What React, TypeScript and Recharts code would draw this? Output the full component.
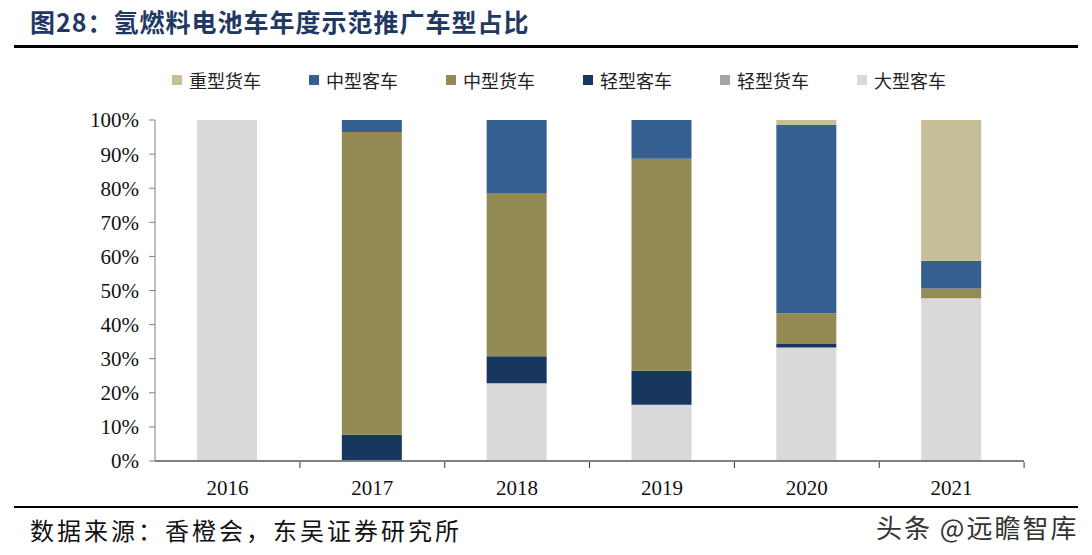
import { Bar, BarChart, XAxis, YAxis } from "recharts";

const years = ["2016", "2017", "2018", "2019", "2020", "2021"];
const bigBus = [100, 0, 22.8, 16.5, 33.3, 47.7];
const lightTruck = [0, 0, 0, 0, 0, 0];
const lightBus = [0, 7.7, 7.9, 10.0, 1.0, 0];
const midTruck = [0, 88.8, 47.9, 62.1, 9.0, 2.9];
const midBus = [0, 3.5, 21.4, 11.4, 55.2, 8.1];
const heavyTruck = [0, 0, 0, 0, 1.5, 41.3];
const yTicks = [0, 10, 20, 30, 40, 50, 60, 70, 80, 90, 100];

// bottom to top
const series = [
  { key: "bigBus", name: "大型客车", color: "#D9D9D9", values: bigBus },
  { key: "lightTruck", name: "轻型货车", color: "#A6A6A6", values: lightTruck },
  { key: "lightBus", name: "轻型客车", color: "#17375E", values: lightBus },
  { key: "midTruck", name: "中型货车", color: "#948A54", values: midTruck },
  { key: "midBus", name: "中型客车", color: "#365F91", values: midBus },
  { key: "heavyTruck", name: "重型货车", color: "#C6BE97", values: heavyTruck },
];

const data = years.map((year, i) => {
  const row: Record<string, string | number> = { year };
  series.forEach((s) => (row[s.key] = s.values[i]));
  return row;
});

const cjk = '"Noto Sans CJK SC", sans-serif';
const serif = '"Liberation Serif", "Times New Roman", serif';
const axisColor = "#808080";

function LegendBox() {
  return (
    <div
      style={{
        position: "absolute",
        left: 172,
        top: 68,
        display: "flex",
        fontFamily: cjk,
        fontSize: 18,
        lineHeight: "24px",
        color: "#222",
      }}
    >
      {[...series].reverse().map((s) => (
        <div key={s.key} style={{ width: 137, display: "flex", alignItems: "center" }}>
          <span style={{ width: 10, height: 10, background: s.color, marginRight: 7, display: "inline-block" }} />
          {s.name}
        </div>
      ))}
    </div>
  );
}

function XTick({ x, y, payload }: any) {
  return (
    <g>
      <line x1={x + 72.5} y1={y - 7} x2={x + 72.5} y2={y - 1} stroke="#333" strokeWidth={1} />
      <text x={x} y={y + 26} textAnchor="middle" fontFamily={serif} fontSize={21} fill="#111">
        {payload.value}
      </text>
    </g>
  );
}

export default function App() {
  return (
    <div style={{ position: "absolute", left: 0, top: 0, width: 1092, height: 555, background: "#fff" }}>
      <div
        style={{
          position: "absolute",
          left: 30,
          top: 3,
          fontFamily: cjk,
          fontWeight: 700,
          fontSize: 25,
          letterSpacing: 1,
          color: "#1F3864",
        }}
      >
        图28：氢燃料电池车年度示范推广车型占比
      </div>
      <div style={{ position: "absolute", left: 14, top: 45, width: 1064, height: 3, background: "#000" }} />
      <LegendBox />
      <BarChart
        width={1092}
        height={555}
        data={data}
        margin={{ top: 120, right: 68, bottom: 64, left: 95 }}
        barSize={60}
      >
        <XAxis
          dataKey="year"
          height={30}
          stroke={axisColor}
          strokeWidth={2}
          tickLine={false}
          tick={<XTick />}
          interval={0}
        />
        <YAxis
          width={60}
          domain={[0, 100]}
          ticks={yTicks}
          tickFormatter={(v) => `${v}%`}
          stroke={axisColor}
          tickSize={6}
          tickLine={{ stroke: axisColor }}
          tick={{ fontFamily: serif, fontSize: 21, fill: "#111" }}
          tickMargin={10}
          allowDataOverflow
        />
        {series.map((s) => (
          <Bar
            key={s.key}
            dataKey={s.key}
            name={s.name}
            stackId="a"
            fill={s.color}
            isAnimationActive={false}
          />
        ))}
      </BarChart>
      <div style={{ position: "absolute", left: 14, top: 506, width: 1064, height: 2, background: "#000" }} />
      <div
        style={{
          position: "absolute",
          left: 30,
          top: 512,
          fontFamily: cjk,
          fontSize: 24,
          letterSpacing: 3,
          color: "#111",
        }}
      >
        数据来源：香橙会，东吴证券研究所
      </div>
      <div
        style={{
          position: "absolute",
          left: 876,
          top: 508,
          fontFamily: cjk,
          fontSize: 26,
          letterSpacing: 2,
          color: "#333",
        }}
      >
        头条 @远瞻智库
      </div>
    </div>
  );
}
